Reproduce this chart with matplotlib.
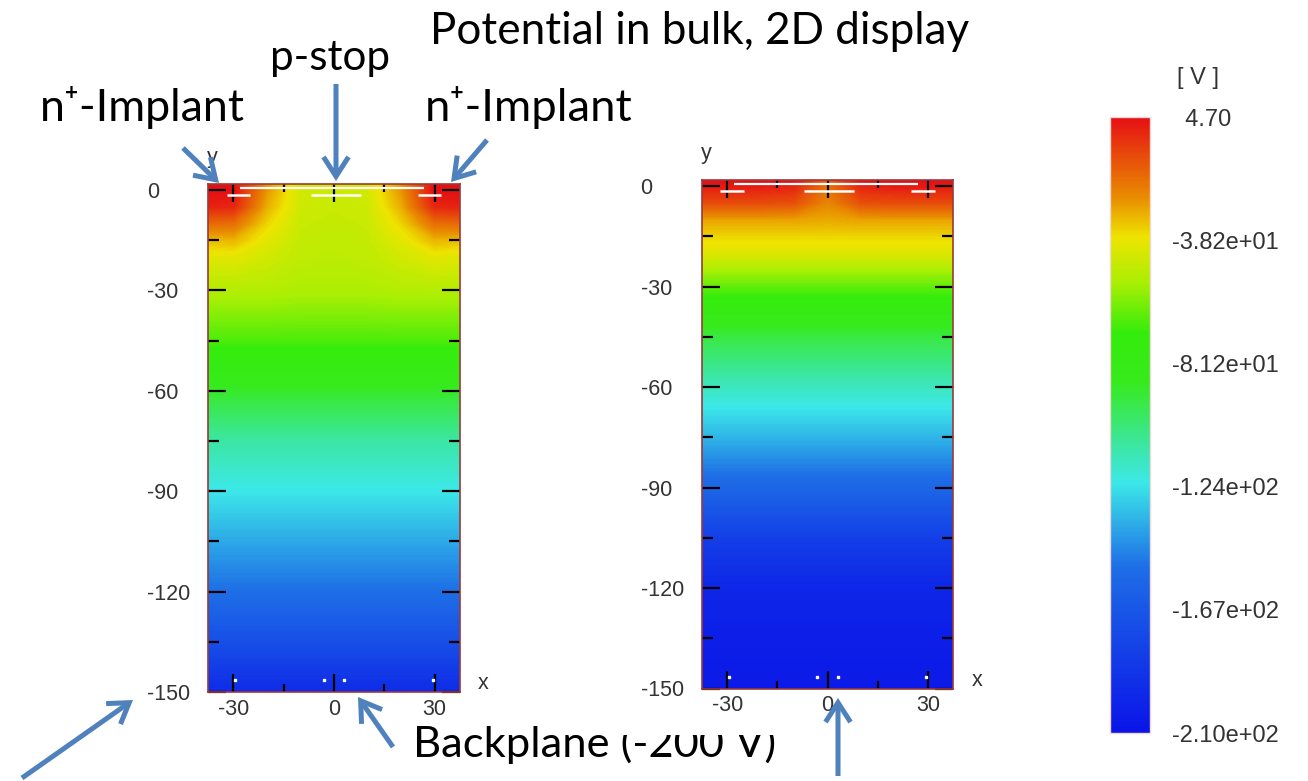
import numpy as np
import matplotlib
matplotlib.use("Agg")
import matplotlib.pyplot as plt
from matplotlib.colors import LinearSegmentedColormap, Normalize
from matplotlib.cm import ScalarMappable
from matplotlib.patches import Rectangle, FancyArrowPatch

plt.rcParams["axes.unicode_minus"] = False

W, H = 1308, 781

# ---------------------------------------------------------------- data
# lateral nodes (half cell, mirrored about x = 0) and depth nodes in um
x_half = [-37.6, -30, -20, -10, 0]
depth = [1.8, 0, -5, -10, -15, -20, -30, -45, -60, -75, -90, -105, -120, -135, -150]

# potential [V] on the nodes, rows follow `depth`, columns follow `x_half`
pot_left_half = [
    [4.7, 4.7, -25, -44, -45],
    [4.7, 4.7, -25, -44, -45],
    [0, -1, -29, -45, -46],
    [-16, -17, -35, -46, -47],
    [-31, -30, -40, -47, -48],
    [-41, -40, -44, -48, -49],
    [-51, -51, -51, -52, -52],
    [-67, -67, -67, -67, -67],
    [-90, -90, -90, -90, -90],
    [-110, -110, -110, -110, -110],
    [-123, -123, -123, -123, -123],
    [-138, -138, -138, -138, -138],
    [-152, -152, -152, -152, -152],
    [-172, -172, -172, -172, -172],
    [-195, -195, -195, -195, -195],
]
pot_right_half = [
    [4.7, 4.7, 4.7, 4.7, -14],
    [2.0, 2.0, 2.0, 0.0, -18],
    [-9, -9, -9, -10, -22],
    [-27, -27, -27, -27, -28],
    [-35, -35, -35, -35, -35],
    [-41, -41, -41, -41, -41],
    [-64, -64, -64, -64, -64],
    [-94, -94, -94, -94, -94],
    [-115, -115, -115, -115, -115],
    [-135, -135, -135, -135, -135],
    [-157, -157, -157, -157, -157],
    [-182, -182, -182, -182, -182],
    [-198, -198, -198, -198, -198],
    [-203, -203, -203, -203, -203],
    [-206, -206, -206, -206, -206],
]

v_min, v_max = -210.0, 4.70
cbar_ticks = [4.70, -38.2, -81.2, -124.0, -167.0, -210.0]
cbar_labels = ["  4.70", "-3.82e+01", "-8.12e+01", "-1.24e+02", "-1.67e+02", "-2.10e+02"]

x_ticks_major = [-30, 0, 30]
x_ticks_minor = [-15, 15]
y_ticks_major = [0, -30, -60, -90, -120, -150]
y_ticks_minor = [-15, -45, -75, -105, -135]

# surface features: oxide line, contact strips (x ranges) and backside contact dots
oxide_span = (-28, 27)
contact_spans = [(-32, -25), (-7, 8), (25, 32)]
back_dots_x = [-29.5, -3, 3, 29.5]

# rainbow colour table of the solver display
cmap_pos = [0.0, 0.27, 0.406, 0.46, 0.57, 0.65, 0.73, 0.805, 0.87, 1.0]
cmap_rgb = ["#0a14e8", "#1e6ee6", "#3ce8e8", "#3ce6aa", "#37ea1c", "#34ec0c",
            "#a8ef04", "#eee400", "#e88c00", "#e60f14"]
cmap = LinearSegmentedColormap.from_list("sim_rainbow", list(zip(cmap_pos, cmap_rgb)), N=512)
norm = Normalize(vmin=v_min, vmax=v_max)

TICK_FONT = "Liberation Sans"
TICK_SIZE = 15.5
SLIDE_FONT = ["Lato", "DejaVu Sans"]
ARROW_COLOR = "#4f81bd"
SPINE_COLOR = "#9a3a3a"

fig = plt.figure(figsize=(W / 100, H / 100), dpi=100, facecolor="white")


def fig_rect(x0, y_top, x1, y_bot):
    return [x0 / W, 1 - y_bot / H, (x1 - x0) / W, (y_bot - y_top) / H]


def mirror(half_x, half_rows):
    xs = np.concatenate([half_x, -np.array(half_x[-2::-1])])
    rows = np.array(half_rows, dtype=float)
    full = np.concatenate([rows, rows[:, -2::-1]], axis=1)
    return xs, full


def field_panel(rect, pot_half, zorder=0):
    ax = fig.add_axes(rect)
    ax.set_zorder(zorder)
    xs, V = mirror(x_half, pot_half)
    X, Y = np.meshgrid(xs, depth)
    levels = np.linspace(v_min, v_max, 300)
    ax.contourf(X, Y, V, levels=levels, cmap=cmap, norm=norm, antialiased=False)
    ax.set_xlim(x_half[0], -x_half[0])
    ax.set_ylim(-150, 1.8)

    # surface structures
    ax.hlines(0.7, *oxide_span, colors="white", lw=1.6, zorder=3)
    for a, b in contact_spans:
        ax.hlines(-1.6, a, b, colors="white", lw=1.8, zorder=3)
    ax.plot(back_dots_x, [-146.5] * len(back_dots_x), ls="none", marker="s",
            ms=1.6, mfc="white", mec="white", zorder=3)

    for s in ax.spines.values():
        s.set_color(SPINE_COLOR)
        s.set_linewidth(1.2)
    ax.set_xticks(x_ticks_major)
    ax.set_xticks(x_ticks_minor, minor=True)
    ax.set_yticks(y_ticks_major)
    ax.set_yticks(y_ticks_minor, minor=True)
    ax.tick_params(which="both", direction="in", top=True, right=True,
                   width=1.6, color="black", labelcolor="#333333")
    ax.tick_params(which="major", length=13)
    ax.tick_params(axis="x", which="minor", length=6)
    ax.tick_params(axis="y", which="minor", length=8)
    ax.tick_params(axis="x", which="major", pad=5)
    ax.tick_params(axis="y", which="major", pad=44)
    for lbl in ax.get_xticklabels() + ax.get_yticklabels():
        lbl.set_fontfamily(TICK_FONT)
        lbl.set_fontsize(TICK_SIZE)
    for lbl in ax.get_yticklabels():
        lbl.set_ha("left")
    ax.annotate("x", xy=(1, 0), xycoords="axes fraction", xytext=(17, 6),
                textcoords="offset points", ha="center", va="center",
                fontsize=TICK_SIZE, family=TICK_FONT, color="#333333")
    ax.annotate("y", xy=(0, 1), xycoords="axes fraction", xytext=(3, 19),
                textcoords="offset points", ha="center", va="center",
                fontsize=TICK_SIZE, family=TICK_FONT, color="#333333")
    return ax


ax_l = field_panel(fig_rect(208, 184, 460, 692), pot_left_half)
ax_r = field_panel(fig_rect(701.7, 180, 953.3, 688.5), pot_right_half, zorder=2)

# colour scale
cax = fig.add_axes(fig_rect(1110, 117, 1150, 733))
cb = fig.colorbar(ScalarMappable(norm=norm, cmap=cmap), cax=cax)
cb.set_ticks(cbar_ticks, labels=cbar_labels)
cb.outline.set_edgecolor("#f3d6d6")
cb.outline.set_linewidth(1.0)
cax.tick_params(length=0, pad=16, labelsize=17, labelcolor="#333333")
for lbl in cax.get_yticklabels():
    lbl.set_fontfamily(TICK_FONT)
fig.text(1177 / W, 1 - 78 / H, "[ V ]", ha="left", va="center",
         fontsize=17, family=TICK_FONT, color="#333333")

# slide annotations
fig.canvas.draw()
renderer = fig.canvas.get_renderer()


def slide_text(s, x_left, y_base, width_px, zorder=5):
    t = fig.text(x_left / W, 1 - y_base / H, s, ha="left", va="baseline",
                 fontsize=30, family=SLIDE_FONT, color="black", zorder=zorder)
    w = t.get_window_extent(renderer).width
    t.set_fontsize(30 * width_px / w)
    return t


slide_text("Potential in bulk, 2D display", 430, 44, 538)
slide_text("p-stop", 270, 70, 120)
slide_text("n\u207a-Implant", 40, 121, 205)
slide_text("n\u207a-Implant", 425, 121, 207)
slide_text("Backplane (-200 V)", 413, 757, 362, zorder=1)

# the second display window sits over the end of the backplane label
fig.add_artist(Rectangle((568 / W, 1 - 735 / H), (1000 - 568) / W, (735 - 690) / H,
                         transform=fig.transFigure, facecolor="white",
                         edgecolor="none", zorder=1.5))

arrows = [
    ((183, 148), (219, 183)),
    ((336, 84), (336, 181)),
    ((487, 140), (451, 182)),
    ((22, 778), (133, 700)),
    ((393, 747), (358, 697)),
    ((838, 776), (838, 698)),
]
for (x0, y0), (x1, y1) in arrows:
    fig.add_artist(FancyArrowPatch((x0 / W, 1 - y0 / H), (x1 / W, 1 - y1 / H),
                                   transform=fig.transFigure,
                                   arrowstyle="->,head_length=0.7,head_width=0.45",
                                   mutation_scale=20, lw=3.6, color=ARROW_COLOR,
                                   shrinkA=0, shrinkB=0, joinstyle="miter",
                                   capstyle="butt", zorder=6))

fig.savefig("out.png", dpi=100, facecolor="white")
